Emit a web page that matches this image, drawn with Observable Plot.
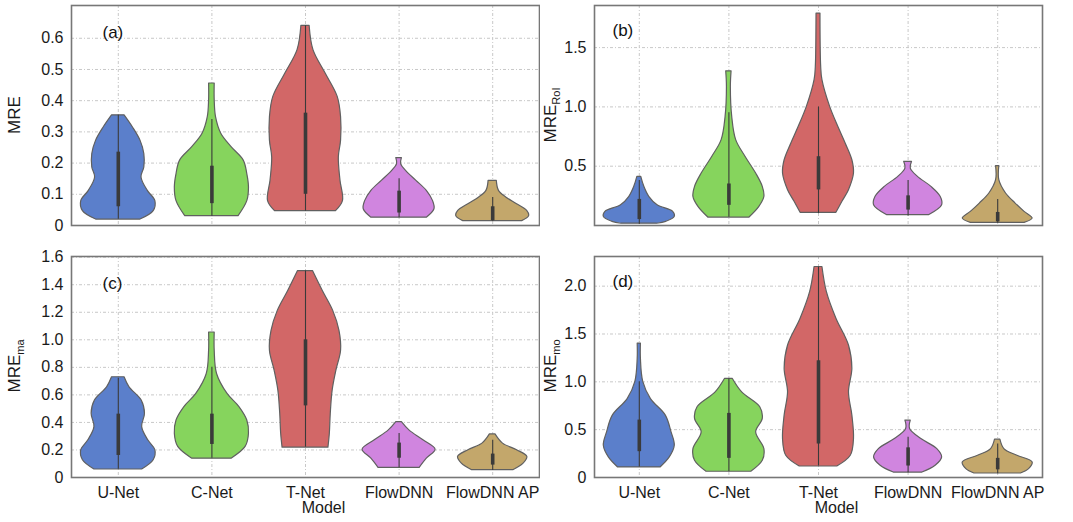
<!DOCTYPE html>
<html><head><meta charset="utf-8">
<script src="https://cdn.jsdelivr.net/npm/d3@7"></script>
<script src="https://cdn.jsdelivr.net/npm/@observablehq/plot@0.6"></script>
<style>
body{margin:0;background:#fff;font-family:"Liberation Sans",Arial,sans-serif;}
#wrap{position:relative;width:1073px;height:522px;overflow:hidden;}
#wrap svg{position:absolute;}
</style></head><body><div id="wrap"></div>
<script>
const models = ["U-Net", "C-Net", "T-Net", "FlowDNN", "FlowDNN AP"];
const colors = ["#5b7fcb", "#86d45d", "#d26767", "#d085df", "#c3a76b"];

// Violin outlines per panel: [value, half-width (in category units)], top to bottom
const violinA = [
  [[0.353,0.067],[0.315,0.155],[0.272,0.237],[0.229,0.278],[0.186,0.278],[0.154,0.248],[0.111,0.315],[0.078,0.396],[0.046,0.378],[0.019,0.237]],
  [[0.455,0.03],[0.401,0.03],[0.347,0.044],[0.294,0.1],[0.251,0.21],[0.208,0.34],[0.165,0.378],[0.122,0.396],[0.078,0.378],[0.03,0.285]],
  [[0.64,0.044],[0.562,0.085],[0.487,0.215],[0.412,0.344],[0.347,0.38],[0.272,0.38],[0.218,0.356],[0.143,0.374],[0.078,0.4],[0.046,0.326]],
  [[0.216,0.03],[0.197,0.022],[0.175,0.074],[0.143,0.185],[0.111,0.296],[0.078,0.363],[0.052,0.378],[0.025,0.296]],
  [[0.143,0.044],[0.111,0.067],[0.089,0.148],[0.068,0.26],[0.046,0.37],[0.030,0.389],[0.014,0.315]]
];
const violinB = [
  [[0.41,0.022],[0.326,0.056],[0.242,0.111],[0.171,0.204],[0.115,0.378],[0.073,0.396],[0.031,0.3],[0.015,0.2]],
  [[1.30,0.03],[1.17,0.022],[0.916,0.037],[0.72,0.081],[0.58,0.185],[0.438,0.304],[0.326,0.378],[0.242,0.396],[0.157,0.34],[0.067,0.23]],
  [[1.787,0.022],[1.337,0.03],[1.225,0.044],[1.0,0.13],[0.83,0.222],[0.69,0.304],[0.55,0.378],[0.438,0.396],[0.298,0.34],[0.2,0.267],[0.107,0.2]],
  [[0.537,0.044],[0.48,0.03],[0.41,0.11],[0.326,0.26],[0.242,0.363],[0.171,0.38],[0.087,0.233]],
  [[0.5,0.018],[0.382,0.018],[0.27,0.093],[0.185,0.2],[0.115,0.3],[0.059,0.39],[0.022,0.3]]
];
const violinC = [
  [[0.728,0.067],[0.655,0.12],[0.559,0.25],[0.463,0.285],[0.366,0.255],[0.27,0.32],[0.198,0.396],[0.125,0.378],[0.058,0.255]],
  [[1.053,0.03],[0.92,0.03],[0.752,0.055],[0.607,0.167],[0.51,0.296],[0.414,0.378],[0.318,0.396],[0.222,0.36],[0.137,0.21]],
  [[1.499,0.08],[1.354,0.185],[1.21,0.296],[1.065,0.363],[0.92,0.38],[0.776,0.33],[0.631,0.29],[0.463,0.27],[0.318,0.26],[0.217,0.245]],
  [[0.402,0.03],[0.342,0.11],[0.27,0.26],[0.202,0.39],[0.137,0.296],[0.07,0.22]],
  [[0.313,0.03],[0.246,0.11],[0.198,0.26],[0.149,0.37],[0.101,0.33],[0.053,0.22]]
];
const violinD = [
  [[1.4,0.018],[1.24,0.018],[1.0,0.044],[0.82,0.13],[0.647,0.296],[0.472,0.36],[0.332,0.396],[0.21,0.34],[0.105,0.237]],
  [[1.03,0.044],[0.89,0.148],[0.734,0.35],[0.612,0.378],[0.472,0.304],[0.297,0.396],[0.175,0.378],[0.06,0.25]],
  [[2.2,0.044],[1.94,0.093],[1.66,0.2],[1.38,0.34],[1.136,0.378],[0.89,0.34],[0.647,0.378],[0.402,0.396],[0.227,0.36],[0.115,0.21]],
  [[0.594,0.03],[0.507,0.022],[0.402,0.148],[0.297,0.326],[0.21,0.38],[0.122,0.307],[0.052,0.16]],
  [[0.395,0.03],[0.297,0.074],[0.227,0.22],[0.157,0.39],[0.087,0.35],[0.042,0.26]]
];
// Inner box per model: [whisker low, Q1, Q3, whisker high]
const boxA = [[0.02,0.06,0.235,0.353],[0.03,0.07,0.19,0.34],[0.046,0.1,0.36,0.64],[0.025,0.04,0.11,0.15],[0.014,0.015,0.06,0.09]];
const boxB = [[0.01,0.05,0.22,0.38],[0.07,0.17,0.35,0.95],[0.1,0.3,0.58,1.0],[0.08,0.13,0.25,0.38],[0.02,0.03,0.11,0.22]];
const boxC = [[0.06,0.16,0.46,0.72],[0.14,0.24,0.46,0.8],[0.22,0.52,1.0,1.5],[0.07,0.14,0.25,0.32],[0.05,0.09,0.17,0.27]];
const boxD = [[0.11,0.27,0.6,1.0],[0.06,0.2,0.67,1.03],[0.12,0.35,1.22,2.2],[0.05,0.12,0.31,0.42],[0.04,0.08,0.2,0.35]];

const ticksA = [0, 0.1, 0.2, 0.3, 0.4, 0.5, 0.6];
const ticksB = [0.5, 1.0, 1.5];
const ticksC = [0, 0.2, 0.4, 0.6, 0.8, 1.0, 1.2, 1.4, 1.6];
const ticksD = [0, 0.5, 1.0, 1.5, 2.0];

const fmt = d => d === 0 ? "0" : d.toFixed(1);
const gridStyle = {stroke: "#c8c8c8", strokeWidth: 1, strokeDasharray: "3,2,1,2"};

function panel(o) {
  const table = o.violins.flatMap((prof, m) => prof.map(([v, w]) => ({m, v, x1: m - w, x2: m + w})));
  const svg = Plot.plot({
    width: o.width, height: o.height,
    marginLeft: o.ml, marginRight: o.mr, marginTop: o.mt, marginBottom: o.mb,
    style: {fontFamily: "'Liberation Sans', Arial, sans-serif", fontSize: "16px", color: "#1a1a1a", background: "transparent"},
    x: {domain: [-0.5, 4.5], ticks: [0, 1, 2, 3, 4], tickFormat: i => models[i], tickSize: 0, tickPadding: 9, label: null, axis: o.showX ? "bottom" : null},
    y: {domain: o.domain, ticks: o.ticks, tickFormat: fmt, tickSize: 0, tickPadding: 8, label: null},
    color: {type: "identity"},
    marks: [
      Plot.ruleX([0, 1, 2, 3, 4], gridStyle),
      Plot.ruleY(o.ticks.filter(t => t > 0), gridStyle),
      Plot.areaX(table, {y: "v", x1: "x1", x2: "x2", z: "m", fill: d => colors[d.m], stroke: "#606060", strokeWidth: 1.2, curve: "catmull-rom"}),
      Plot.ruleX(o.boxes, {x: (d, i) => i, y1: d => d[0], y2: d => d[3], stroke: "#3a3a3a", strokeWidth: 1.1}),
      Plot.ruleX(o.boxes, {x: (d, i) => i, y1: d => d[1], y2: d => d[2], stroke: "#3a3a3a", strokeWidth: 3.6}),
      Plot.frame({stroke: "#777", strokeWidth: 1.6}),
      Plot.text([o.tag], {frameAnchor: "top-left", textAnchor: "start", dx: o.tagDx, dy: o.tagDy, fontSize: 17, fill: "#111"}),
      o.showX ? Plot.text(["Model"], {frameAnchor: "bottom", dx: 18, dy: 35, fontSize: 16, fill: "#1a1a1a"}) : null
    ]
  });
  svg.style.left = o.left + "px";
  svg.style.top = o.top + "px";
  const t = d3.select(svg).append("text")
    .attr("transform", `translate(${o.labelX},${o.labelY}) rotate(-90)`)
    .attr("text-anchor", "middle")
    .attr("font-size", 17)
    .attr("fill", "#1a1a1a");
  t.append("tspan").text("MRE");
  if (o.sub) t.append("tspan").attr("font-size", 11).attr("dy", 4).text(o.sub);
  document.getElementById("wrap").appendChild(svg);
}

panel({violins: violinA, boxes: boxA, domain: [0, 0.705], ticks: ticksA, tag: "(a)", sub: null, showX: false,
  left: 0, top: 0, width: 540, height: 240, ml: 71, mr: 1, mt: 5, mb: 15, tagDx: 31, tagDy: 20, labelX: 20, labelY: 115});
panel({violins: violinB, boxes: boxB, domain: [0, 1.855], ticks: ticksB, tag: "(b)", sub: "RoI", showX: false,
  left: 540, top: 0, width: 533, height: 240, ml: 54, mr: 31, mt: 5, mb: 15, tagDx: 18, tagDy: 18, labelX: 16, labelY: 115});
panel({violins: violinC, boxes: boxC, domain: [0, 1.605], ticks: ticksC, tag: "(c)", sub: "ma", showX: true,
  left: 0, top: 240, width: 540, height: 282, ml: 71, mr: 1, mt: 16, mb: 45, tagDx: 31, tagDy: 20, labelX: 20, labelY: 126});
panel({violins: violinD, boxes: boxD, domain: [0, 2.31], ticks: ticksD, tag: "(d)", sub: "mo", showX: true,
  left: 540, top: 240, width: 533, height: 282, ml: 54, mr: 31, mt: 16, mb: 45, tagDx: 18, tagDy: 18, labelX: 16, labelY: 126});
</script></body></html>
